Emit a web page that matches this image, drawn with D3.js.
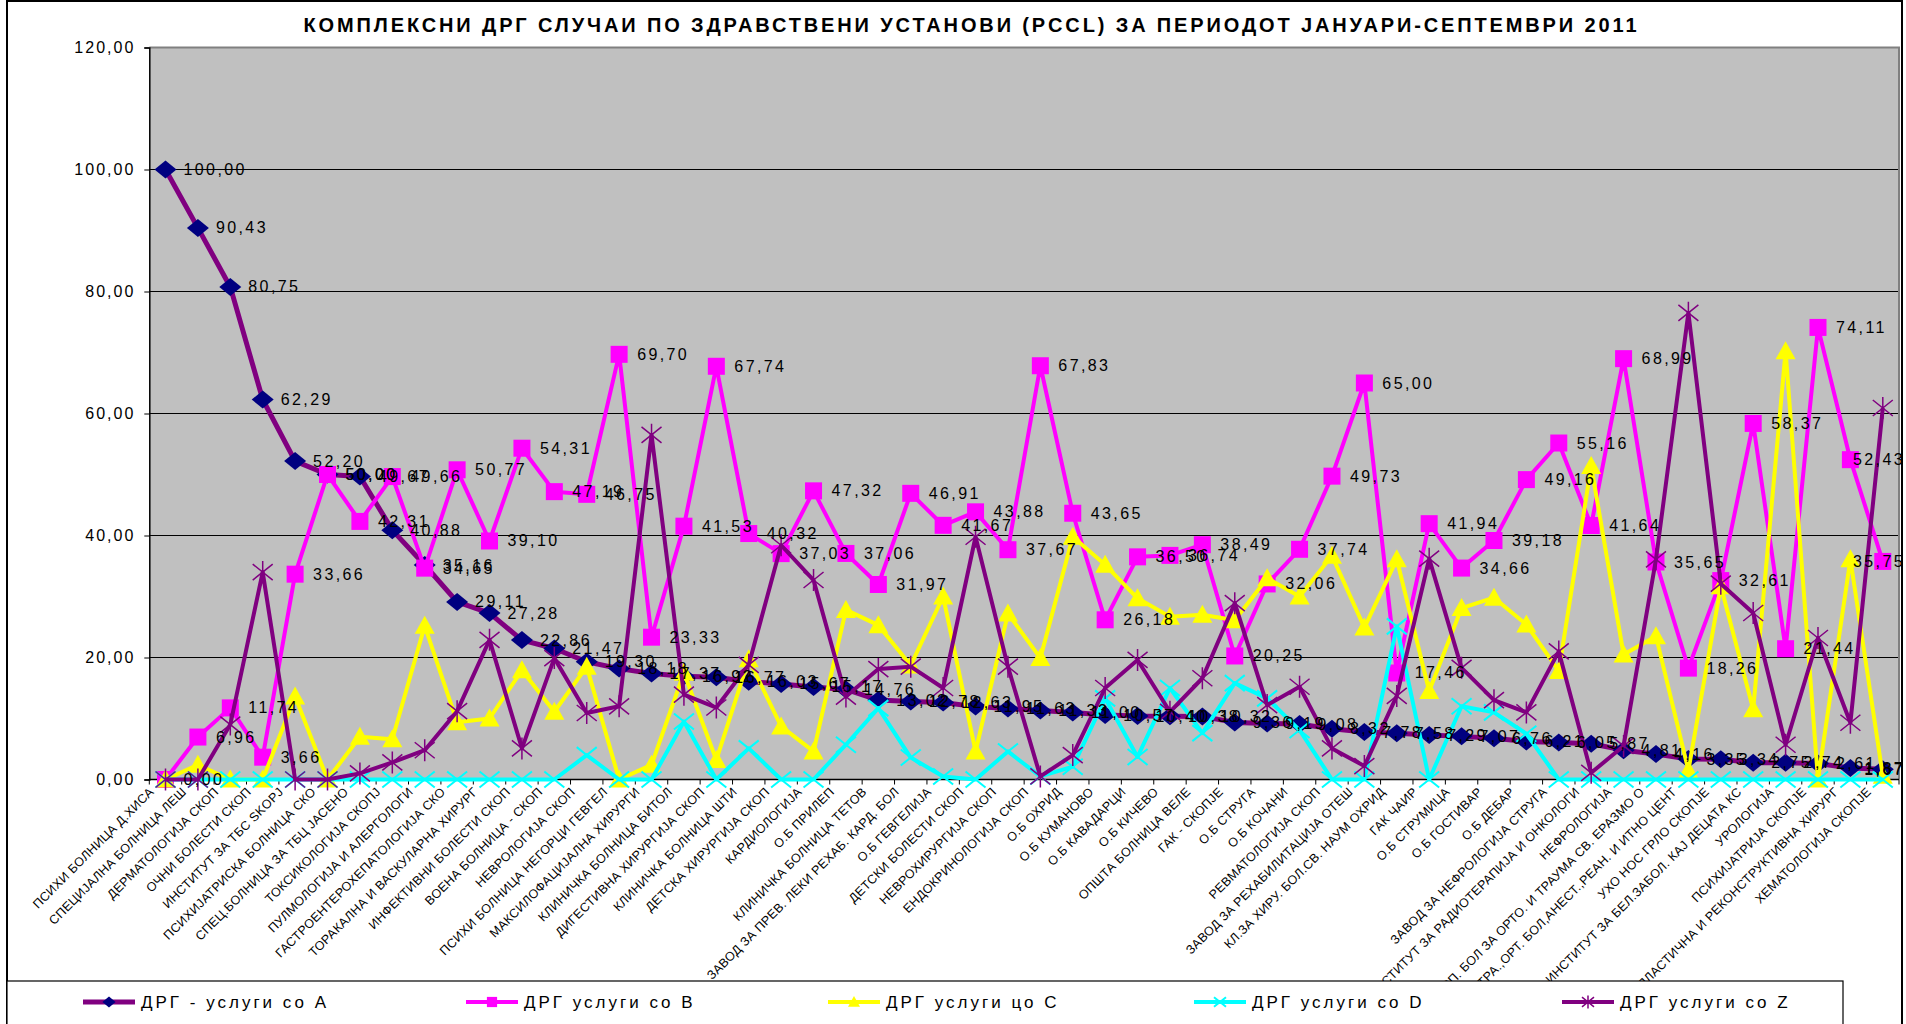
<!DOCTYPE html>
<html>
<head>
<meta charset="utf-8">
<script src="https://cdn.jsdelivr.net/npm/d3@7"></script>
<style>
  body { margin: 0; background: #fff; }
  svg { display: block; font-family: Arial, "Liberation Sans", sans-serif; }
</style>
</head>
<body>
<svg id="chart" width="1906" height="1024"></svg>
<script>
const title = 'КОМПЛЕКСНИ  ДРГ СЛУЧАИ ПО ЗДРАВСТВЕНИ УСТАНОВИ (PCCL) ЗА ПЕРИОДОТ ЈАНУАРИ-СЕПТЕМВРИ 2011';

const categories = [
  'ПСИХИ БОЛНИЦА Д.ХИСА', 'СПЕЦИЈАЛНА БОЛНИЦА ЛЕШ', 'ДЕРМАТОЛОГИЈА СКОП', 'ОЧНИ БОЛЕСТИ СКОП',
  'ИНСТИТУТ ЗА ТБС SKOPJ', 'ПСИХИЈАТРИСКА БОЛНИЦА СКО', 'СПЕЦ.БОЛНИЦА ЗА ТБЦ ЈАСЕНО', 'ТОКСИКОЛОГИЈА СКОПЈ',
  'ПУЛМОЛОГИЈА И АЛЕРГОЛОГИ', 'ГАСТРОЕНТЕРОХЕПАТОЛОГИЈА СКО', 'ТОРАКАЛНА И ВАСКУЛАРНА ХИРУРГ', 'ИНФЕКТИВНИ БОЛЕСТИ СКОП',
  'ВОЕНА БОЛНИЦА - СКОП', 'НЕВРОЛОГИЈА СКОП', 'ПСИХИ БОЛНИЦА НЕГОРЦИ ГЕВГЕЛ', 'МАКСИЛОФАЦИЈАЛНА ХИРУРГИ',
  'КЛИНИЧКА БОЛНИЦА БИТОЛ', 'ДИГЕСТИВНА ХИРУРГИЈА СКОП', 'КЛИНИЧКА  БОЛНИЦА ШТИ', 'ДЕТСКА ХИРУРГИЈА СКОП',
  'КАРДИОЛОГИЈА', 'О.Б ПРИЛЕП', 'КЛИНИЧКА БОЛНИЦА ТЕТОВ', 'ЗАВОД ЗА ПРЕВ. ЛЕКИ РЕХАБ. КАРД. БОЛ',
  'О.Б ГЕВГЕЛИЈА', 'ДЕТСКИ БОЛЕСТИ СКОП', 'НЕВРОХИРУРГИЈА СКОП', 'ЕНДОКРИНОЛОГИЈА СКОП',
  'О.Б ОХРИД', 'О.Б КУМАНОВО', 'О.Б КАВАДАРЦИ', 'О.Б КИЧЕВО',
  'ОПШТА БОЛНИЦА ВЕЛЕ', 'ГАК - СКОПЈЕ', 'О.Б СТРУГА', 'О.Б КОЧАНИ',
  'РЕВМАТОЛОГИЈА СКОП', 'ЗАВОД ЗА РЕХАБИЛИТАЦИЈА ОТЕШ', 'КЛ.ЗА ХИРУ. БОЛ.СВ. НАУМ ОХРИД', 'ГАК ЧАИР',
  'О.Б СТРУМИЦА', 'О.Б ГОСТИВАР', 'О.Б ДЕБАР', 'ЗАВОД ЗА НЕФРОЛОГИЈА СТРУГА',
  'ИНСТИТУТ ЗА РАДИОТЕРАПИЈА И ОНКОЛОГИ', 'НЕФРОЛОГИЈА', 'СП. БОЛ ЗА ОРТО. И ТРАУМА СВ. ЕРАЗМО О', 'ТРА.,ОРТ. БОЛ,АНЕСТ.,РЕАН. И ИТНО ЦЕНТ',
  'УХО НОС ГРЛО СКОПЈЕ', 'ИНСТИТУТ ЗА БЕЛ.ЗАБОЛ. КАЈ ДЕЦАТА КС', 'УРОЛОГИЈА', 'ПСИХИЈАТРИЈА СКОПЈЕ',
  'ПЛАСТИЧНА И РЕКОНСТРУКТИВНА ХИРУРГ', 'ХЕМАТОЛОГИЈА СКОПЈЕ'
];

const seriesA = [100.00, 90.43, 80.75, 62.29, 52.20, 50.00, 49.67, 40.88, 35.16, 29.11,
  27.28, 22.86, 21.47, 19.30, 18.18, 17.37, 16.92, 16.77, 16.03, 15.67,
  15.17, 14.76, 13.02, 12.78, 12.63, 11.95, 11.63, 11.33, 11.00, 10.57,
  10.40, 10.38, 10.32, 9.36, 9.19, 9.08, 8.32, 7.78, 7.58, 7.29,
  7.07, 6.76, 6.21, 6.05, 5.87, 4.81, 4.16, 3.35, 3.34, 2.75,
  2.74, 2.61, 1.87, 1.67];

const seriesB = [0.00, 6.96, 11.74, 3.66, 33.66, 50.00, 42.31, 49.66, 34.65, 50.77,
  39.10, 54.31, 47.19, 46.75, 69.70, 23.33, 41.53, 67.74, 40.32, 37.03,
  47.32, 37.06, 31.97, 46.91, 41.67, 43.88, 37.67, 67.83, 43.65, 26.18,
  36.50, 36.74, 38.49, 20.25, 32.06, 37.74, 49.73, 65.00, 17.46, 41.94,
  34.66, 39.18, 49.16, 55.16, 41.64, 68.99, 35.65, 18.26, 32.61, 58.37,
  21.44, 74.11, 52.43, 35.75];

const seriesC = [0, 2.4, 0, 0, 13.6, 0, 7.0, 6.6, 25.2, 9.4,
  10.0, 17.9, 11.1, 18.5, 0, 2.4, 17.5, 3.2, 19.7, 8.7,
  4.6, 27.8, 25.3, 18.7, 30.0, 4.6, 27.2, 19.9, 39.8, 35.2,
  29.7, 26.7, 27.0, 26.1, 33.0, 30.0, 36.7, 24.9, 36.1, 14.5,
  28.1, 29.8, 25.4, 17.8, 51.4, 20.5, 23.5, 1.5, 31.7, 11.5,
  70.2, 0, 36.1, 0.6];

const seriesD = [0, 0, 0, 0, 0, 0, 0, 0, 0, 0,
  0, 0, 0, 4.0, 0, 0, 9.5, 0, 5.1, 0,
  0, 5.7, 11.7, 3.6, 0.5, 0, 4.6, 0.5, 2.1, 13.3,
  3.7, 15.0, 7.6, 15.8, 13.3, 8.1, 0, 0, 25.1, 0,
  12.0, 11.0, 7.5, 0, 0, 0, 0, 0, 0, 0,
  0, 0, 0, 0];

const seriesZ = [0, 0, 9, 34, 0, 0, 1.0, 2.8, 4.8, 11.2,
  22.9, 5.1, 19.9, 10.9, 12.0, 56.5, 13.9, 11.8, 18.8, 38.4,
  32.7, 13.6, 18.1, 18.5, 15.0, 39.8, 18.5, 0.5, 4.0, 15.0,
  19.6, 11.1, 16.6, 28.9, 12.2, 15.2, 5.1, 2.2, 13.7, 36.2,
  18.3, 13.0, 11.0, 21.0, 1.1, 5.5, 36.1, 76.5, 32.1, 27.3,
  5.7, 23.2, 9.3, 60.9];

const seriesNames = ['ДРГ - услуги со A', 'ДРГ услуги со B', 'ДРГ услуги цо C', 'ДРГ услуги со D', 'ДРГ услуги со Z'];
const yTicks = [0, 20, 40, 60, 80, 100, 120];

const svg = d3.select('#chart');
const plotL = 149.3, plotR = 1899, plotT = 47.5, plotB = 779.5;

const x = d3.scaleBand()
  .domain(d3.range(categories.length))
  .range([plotL, plotR]);
const cx = i => x(i) + x.bandwidth() / 2;
const y = d3.scaleLinear().domain([0, 120]).range([plotB, plotT]);
const fmt = v => d3.format('.2f')(v).replace('.', ',');

// chart frame
svg.append('rect')
  .attr('x', 7).attr('y', 1).attr('width', 1895).attr('height', 1040)
  .attr('fill', '#fff').attr('stroke', '#000').attr('stroke-width', 2);

// title
svg.append('text')
  .attr('x', 970).attr('y', 25)
  .attr('text-anchor', 'middle').attr('dominant-baseline', 'central')
  .attr('font-size', 20).attr('font-weight', 'bold')
  .attr('textLength', 1333).attr('lengthAdjust', 'spacing')
  .text(title);

// plot area
svg.append('rect')
  .attr('x', plotL).attr('y', plotT)
  .attr('width', plotR - plotL).attr('height', plotB - plotT)
  .attr('fill', '#c0c0c0');

svg.append('g')
  .selectAll('line')
  .data(yTicks.filter(d => d > 0 && d < 120))
  .join('line')
  .attr('x1', plotL).attr('x2', plotR)
  .attr('y1', d => y(d)).attr('y2', d => y(d))
  .attr('stroke', '#000').attr('stroke-width', 1);

svg.append('path')
  .attr('d', `M${plotL},${plotT}H${plotR}V${plotB}`)
  .attr('fill', 'none').attr('stroke', '#808080').attr('stroke-width', 2);

// y axis
const yAxis = svg.append('g')
  .attr('transform', `translate(${plotL},0)`)
  .call(d3.axisLeft(y).tickValues(yTicks).tickFormat(fmt).tickSize(5).tickPadding(9));
yAxis.select('.domain').attr('stroke', '#000').attr('stroke-width', 1.5);
yAxis.selectAll('.tick line').attr('stroke', '#000');
yAxis.selectAll('.tick text')
  .attr('font-size', 16).attr('letter-spacing', 2).attr('fill', '#000')
  .attr('font-family', 'Arial, "Liberation Sans", sans-serif');

// x axis line + boundary ticks
svg.append('line')
  .attr('x1', plotL).attr('x2', plotR).attr('y1', plotB).attr('y2', plotB)
  .attr('stroke', '#000').attr('stroke-width', 1.5);
svg.append('g')
  .selectAll('line')
  .data(d3.range(categories.length + 1))
  .join('line')
  .attr('x1', i => plotL + i * x.bandwidth()).attr('x2', i => plotL + i * x.bandwidth())
  .attr('y1', plotB).attr('y2', plotB + 5)
  .attr('stroke', '#000');

// category labels
svg.append('g')
  .selectAll('text')
  .data(categories)
  .join('text')
  .attr('transform', (d, i) => `translate(${cx(i) - 14},${plotB + 10}) rotate(-45)`)
  .attr('text-anchor', 'end')
  .attr('dy', '0.35em')
  .attr('font-size', 12.5)
  .attr('letter-spacing', 0.3)
  .text(d => d);

// series
const line = d3.line().x((d, i) => cx(i)).y(d => y(d));

function drawSeries(data, color, width, marker) {
  const g = svg.append('g');
  g.append('path')
    .datum(data)
    .attr('d', line)
    .attr('fill', 'none')
    .attr('stroke', color)
    .attr('stroke-width', width)
    .attr('stroke-linejoin', 'round');
  const m = g.selectAll('g.m')
    .data(data)
    .join('g')
    .attr('class', 'm')
    .attr('transform', (d, i) => `translate(${cx(i)},${y(d)})`);
  marker(m);
  return g;
}

const diamond = (sel, s = 1) => sel.append('path')
  .attr('d', `M0,${-9 * s}L${11 * s},0L0,${9 * s}L${-11 * s},0Z`).attr('fill', '#000080');
const square = (sel, s = 1) => sel.append('rect')
  .attr('x', -8.5 * s).attr('y', -8.5 * s).attr('width', 17 * s).attr('height', 17 * s)
  .attr('fill', '#ff00ff');
const triangle = (sel, s = 1) => sel.append('path')
  .attr('d', `M0,${-10 * s}L${10 * s},${8 * s}L${-10 * s},${8 * s}Z`).attr('fill', '#ffff00');
const cross = (sel, s = 1) => sel.append('path')
  .attr('d', `M${-10 * s},${-8 * s}L${10 * s},${8 * s}M${-10 * s},${8 * s}L${10 * s},${-8 * s}`)
  .attr('stroke', '#00ffff').attr('stroke-width', 2).attr('fill', 'none');
const star = (sel, s = 1) => sel.append('path')
  .attr('d', `M${-10 * s},${-8 * s}L${10 * s},${8 * s}M${-10 * s},${8 * s}L${10 * s},${-8 * s}M0,${-11 * s}L0,${11 * s}`)
  .attr('stroke', '#800080').attr('stroke-width', 1.5).attr('fill', 'none');

drawSeries(seriesA, '#800080', 5, diamond);
drawSeries(seriesB, '#ff00ff', 4, square);
drawSeries(seriesC, '#ffff00', 4, triangle);
drawSeries(seriesD, '#00ffff', 4, cross);
drawSeries(seriesZ, '#800080', 4, star);

// data labels for A and B
function drawLabels(data) {
  svg.append('g')
    .selectAll('text')
    .data(data)
    .join('text')
    .attr('x', (d, i) => cx(i) + 18)
    .attr('y', d => y(d))
    .attr('dominant-baseline', 'central')
    .attr('font-size', 16)
    .attr('letter-spacing', 2.4)
    .text(d => fmt(d))
    .each(function () {
      const w = this.getComputedTextLength();
      const x0 = +this.getAttribute('x');
      if (x0 + w > 1905) this.setAttribute('x', 1905 - w);
    });
}
drawLabels(seriesA);
drawLabels(seriesB);

// legend
svg.append('rect')
  .attr('x', 7).attr('y', 981).attr('width', 1836).attr('height', 60)
  .attr('fill', '#fff').attr('stroke', '#000').attr('stroke-width', 1.2);

const legendLineX = [83, 466, 828, 1194, 1562];
const legendColors = ['#800080', '#ff00ff', '#ffff00', '#00ffff', '#800080'];
const legendMarkers = [diamond, square, triangle, cross, star];
const legendY = 1002;
seriesNames.forEach((name, k) => {
  const g = svg.append('g');
  g.append('line')
    .attr('x1', legendLineX[k]).attr('x2', legendLineX[k] + 52)
    .attr('y1', legendY).attr('y2', legendY)
    .attr('stroke', legendColors[k]).attr('stroke-width', k === 0 ? 5 : 4);
  legendMarkers[k](g.append('g').attr('transform', `translate(${legendLineX[k] + 26},${legendY})`), 0.6);
  g.append('text')
    .attr('x', legendLineX[k] + 58).attr('y', legendY)
    .attr('dominant-baseline', 'central')
    .attr('font-size', 17).attr('letter-spacing', 3)
    .text(name);
});
</script>
</body>
</html>
